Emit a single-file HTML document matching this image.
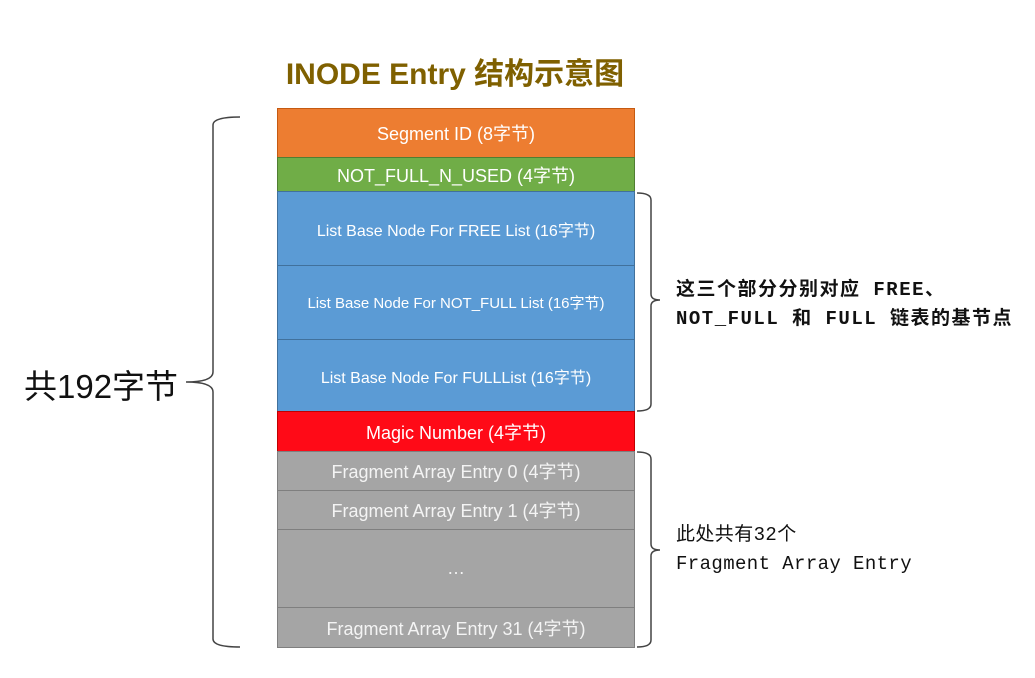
<!DOCTYPE html>
<html><head><meta charset="utf-8"><style>
body{margin:0;width:1035px;height:678px;background:#fff;position:relative;overflow:hidden;font-family:"Liberation Sans","Noto Sans CJK SC",sans-serif}
.b{position:absolute;left:277px;width:358px;box-sizing:border-box;border:1px solid;color:#fff;display:flex;align-items:center;justify-content:center;font-size:18px}
.o{background:#ED7D31;border-color:#c55a11}
.g{background:#70AD47;border-color:#507e32}
.bl{background:#5B9BD5;border-color:#41719c;font-size:16px}
.r{background:#FF0A17;border-color:#c00000}
.gr{background:#A5A5A5;border-color:#7f7f7f;color:#f4f4f4;font-size:18px}
.t{position:absolute;font-family:"Liberation Mono","Noto Sans CJK SC",monospace;font-size:19px;color:#111;line-height:29px;font-weight:bold;white-space:nowrap}
</style></head><body>
<div style="position:absolute;left:0;width:910px;top:49px;text-align:center;font-size:30px;font-weight:bold;color:#7F6000">INODE Entry 结构示意图</div>
<div class="b o" style="top:108px;height:50px">Segment ID (8字节)</div>
<div class="b g" style="top:157px;height:35px">NOT_FULL_N_USED (4字节)</div>
<div class="b bl" style="top:191px;height:75px">List Base Node For FREE List (16字节)</div>
<div class="b bl" style="top:265px;height:75px;font-size:15px">List Base Node For NOT_FULL List (16字节)</div>
<div class="b bl" style="top:339px;height:73px">List Base Node For FULLList (16字节)</div>
<div class="b r" style="top:411px;height:41px;font-size:18px">Magic Number (4字节)</div>
<div class="b gr" style="top:451px;height:40px">Fragment Array Entry 0 (4字节)</div>
<div class="b gr" style="top:490px;height:40px">Fragment Array Entry 1 (4字节)</div>
<div class="b gr" style="top:529px;height:79px">…</div>
<div class="b gr" style="top:607px;height:41px">Fragment Array Entry 31 (4字节)</div>
<svg width="1035" height="678" style="position:absolute;left:0;top:0" fill="none" stroke="#444" stroke-width="1.5">
<path d="M240 117 Q213 117 213 125 L213 372 Q213 382 186 382 Q213 382 213 392 L213 639 Q213 647 240 647"/>
<path d="M637 193 Q651 193 651 200 L651 294 Q651 300 660 300 Q651 300 651 306 L651 404 Q651 411 637 411"/>
<path d="M637 452 Q651 452 651 459 L651 544 Q651 550 660 550 Q651 550 651 556 L651 640 Q651 647 637 647"/>
</svg>
<div style="position:absolute;left:24px;top:360px;font-size:33px;color:#111;font-family:'Liberation Sans','Noto Sans CJK SC',sans-serif">共192字节</div>
<div class="t" style="left:676px;top:276px;letter-spacing:1.5px">这三个部分分别对应 FREE、<br>NOT_FULL 和 FULL 链表的基节点</div>
<div class="t" style="left:676px;top:521px;font-weight:normal;letter-spacing:0.4px">此处共有32个<br>Fragment Array Entry</div>
</body></html>
